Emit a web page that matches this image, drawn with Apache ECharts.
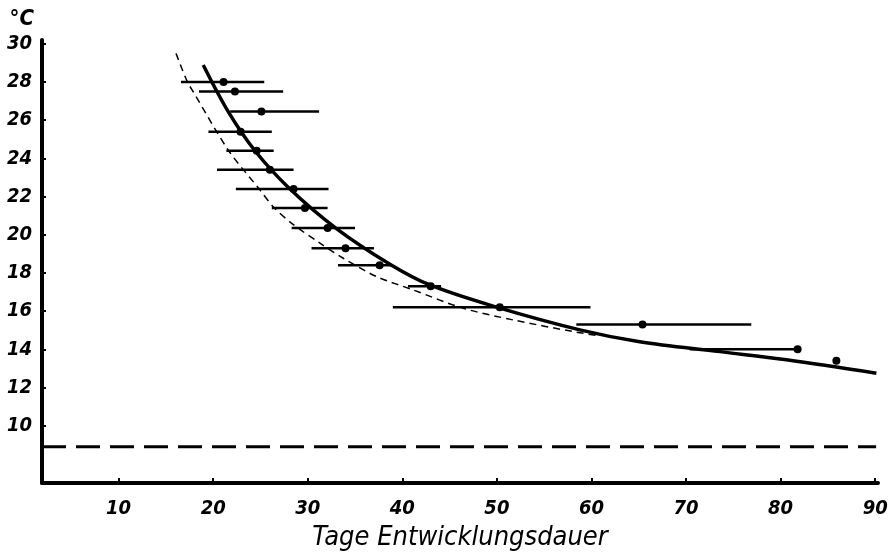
<!DOCTYPE html>
<html>
<head>
<meta charset="utf-8">
<script src="https://cdn.jsdelivr.net/npm/echarts@6/dist/echarts.min.js"></script>
<style>
html,body{margin:0;padding:0;background:#fff;}
#chart{width:889px;height:553px;}
</style>
</head>
<body>
<div id="chart"></div>
<script>
// Temperature levels (°C) of the observations
const tempLevels = [28.0, 27.5, 26.45, 25.4, 24.4, 23.4, 22.4, 21.4, 20.35, 19.3, 18.4, 17.3, 16.2, 15.3, 14.0, 13.4];
// Mean development duration (days)
const meanDays   = [21.1, 22.3, 25.1, 22.9, 24.6, 26.0, 28.5, 29.7, 32.1, 34.0, 37.6, 43.0, 50.3, 65.4, 81.8, 85.9];
// Range of development duration (days)
const minDays    = [16.6, 18.5, 21.8, 19.5, 21.4, 20.4, 22.4, 26.2, 28.3, 30.4, 33.2, 40.6, 39.0, 58.4, 70.4, null];
const maxDays    = [25.4, 27.4, 31.2, 26.2, 26.4, 28.5, 32.2, 32.1, 35.0, 37.0, 39.0, 44.1, 59.9, 76.9, 81.8, null];

// Thick solid fitted curve (days, °C)
const solidCurveX = [18.95, 21.59, 24.42, 28.01, 33.0, 38.69, 42.92, 49.97, 58.77, 65.1, 73.57, 80.62, 90.13];
const solidCurveY = [28.89, 26.45, 24.4, 22.45, 20.34, 18.46, 17.37, 16.21, 15.02, 14.4, 13.88, 13.45, 12.75];

// Thin dashed curve (days, °C)
const dashCurveX = [16.07, 17.26, 17.89, 21.59, 24.94, 26.35, 28.3, 31.29, 33.75, 37.28, 41.15, 46.44, 51.72, 58.06, 60.9];
const dashCurveY = [29.5, 28.02, 27.49, 24.44, 22.35, 21.47, 20.6, 19.56, 18.77, 17.81, 17.11, 16.15, 15.54, 14.93, 14.7];

// Developmental threshold line (°C)
const thresholdTemp = 8.9;

// Tick labels
const xTicks = [10, 20, 30, 40, 50, 60, 70, 80, 90];
const yTicks = [10, 12, 14, 16, 18, 20, 22, 24, 26, 28, 30];

const FONT = "'DejaVu Sans Condensed', 'DejaVu Sans', sans-serif";

const rangeData = tempLevels.map((t, i) => [minDays[i], maxDays[i], t]).filter(d => d[0] != null);
const meanData = tempLevels.map((t, i) => [meanDays[i], t]);
const solidData = solidCurveX.map((x, i) => [x, solidCurveY[i]]);
const dashData = dashCurveX.map((x, i) => [x, dashCurveY[i]]);

const chart = echarts.init(document.getElementById('chart'));
chart.setOption({
  animation: false,
  backgroundColor: '#fff',
  grid: { left: 42, right: 11, top: 40, bottom: 70, containLabel: false, outerBoundsMode: 'none' },
  xAxis: {
    type: 'value', min: 1.9, max: 90.3,
    name: 'Tage Entwicklungsdauer', nameLocation: 'middle', nameGap: 41,
    nameTextStyle: { fontFamily: FONT, fontStyle: 'italic', fontSize: 27, color: '#000' },
    axisLine: { show: true, lineStyle: { color: '#000', width: 4 } },
    axisTick: { show: true, inside: true, length: 5, customValues: xTicks, lineStyle: { color: '#000', width: 2 } },
    axisLabel: { customValues: xTicks, margin: 16, fontFamily: FONT, fontStyle: 'italic', fontWeight: 'bold', fontSize: 20, color: '#000' },
    splitLine: { show: false }
  },
  yAxis: {
    type: 'value', min: 7.0, max: 30.2,
    name: '°C', nameLocation: 'end', nameGap: 10,
    nameTextStyle: { fontFamily: FONT, fontStyle: 'italic', fontWeight: 'bold', fontSize: 22, color: '#000', align: 'right', padding: [0, 8, 0, 0] },
    axisLine: { show: true, lineStyle: { color: '#000', width: 4 } },
    axisTick: { show: true, inside: true, length: 4, customValues: yTicks, lineStyle: { color: '#000', width: 2 } },
    axisLabel: { customValues: yTicks, margin: 10, fontFamily: FONT, fontStyle: 'italic', fontWeight: 'bold', fontSize: 20, color: '#000' },
    splitLine: { show: false }
  },
  series: [
    {
      type: 'line', data: [[1.9, thresholdTemp], [90.1, thresholdTemp]],
      symbol: 'none', lineStyle: { color: '#000', width: 3, type: [24, 10] }, z: 2
    },
    {
      type: 'line', data: dashData, smooth: 0.3, symbol: 'none',
      lineStyle: { color: '#000', width: 1.5, type: [7, 5] }, z: 3
    },
    {
      type: 'line', data: solidData, smooth: 0.35, symbol: 'none',
      lineStyle: { color: '#000', width: 3.5 }, z: 4
    },
    {
      type: 'custom', data: rangeData, z: 5,
      renderItem: function (params, api) {
        const a = api.coord([api.value(0), api.value(2)]);
        const b = api.coord([api.value(1), api.value(2)]);
        return { type: 'line', shape: { x1: a[0], y1: a[1], x2: b[0], y2: b[1] }, style: { stroke: '#000', lineWidth: 2.5 } };
      }
    },
    {
      type: 'scatter', data: meanData, symbol: 'circle', symbolSize: 8,
      itemStyle: { color: '#000', opacity: 1 }, z: 6
    }
  ]
});
</script>
</body>
</html>
